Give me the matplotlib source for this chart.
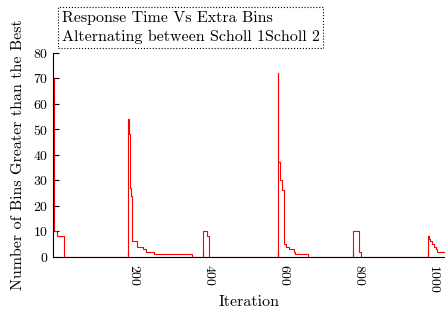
import numpy as np
import matplotlib
matplotlib.use('Agg')
import matplotlib.pyplot as plt

plt.rcParams['font.family'] = 'cmr10'
plt.rcParams['mathtext.fontset'] = 'cm'
plt.rcParams['axes.formatter.use_mathtext'] = True

# step points: value holds from this iteration until the next one
iterations = [0, 1, 9, 27,
              200, 201, 204, 208, 210, 222, 238, 246, 269, 370,
              399, 411, 415,
              599, 600, 605, 606, 611, 615, 620, 629, 642, 644, 680,
              799, 816, 822,
              999, 1003, 1006, 1010, 1016, 1020, 1024, 1045]
extra_bins = [70, 10, 8, 0,
              54, 48, 27, 24, 6, 4, 3, 2, 1, 0,
              10, 8, 0,
              72, 37, 35, 30, 26, 5, 4, 3, 2, 1, 0,
              10, 2, 0,
              8, 7, 6, 5, 4, 3, 2, 2]

xtick_vals = [200, 400, 600, 800, 1000]
ytick_vals = list(range(0, 81, 10))

fig = plt.figure(figsize=(4.45, 3.09), dpi=100)
ax = fig.add_axes([0.12, 0.169, 0.88, 0.66])

ax.plot(iterations, extra_bins, color='red', lw=0.8, drawstyle='steps-post')

ax.set_xlim(0, 1045)
ax.set_ylim(0, 80)
ax.set_xticks(xtick_vals)
ax.set_yticks(ytick_vals)
ax.tick_params(direction='in', length=4, width=0.8, labelsize=10)
ax.tick_params(axis='x', pad=5)
for lbl in ax.get_xticklabels():
    lbl.set_rotation(270)
    lbl.set_ha('left')
ax.spines['top'].set_visible(False)
ax.spines['right'].set_visible(False)

ax.set_xlabel('Iteration', fontsize=11.5, labelpad=2)
ax.set_ylabel('Number of Bins Greater than the Best', fontsize=11.5, labelpad=6)

fig.text(62 / 445, 1 - 11 / 309,
         'Response Time Vs Extra Bins\nAlternating between Scholl 1Scholl 2',
         ha='left', va='top', fontsize=11.5, linespacing=1.45,
         bbox=dict(boxstyle='square,pad=0.22', fc='white', ec='black', ls=':', lw=0.8))

fig.savefig('out.png', dpi=100)
